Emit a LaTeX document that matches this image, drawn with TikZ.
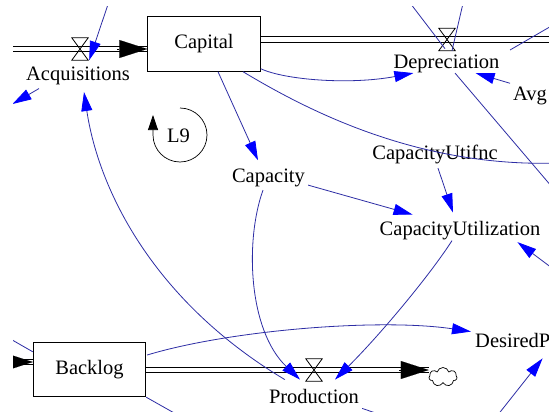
\documentclass[tikz,border=0pt]{standalone}
\usepackage{fontspec}
\setmainfont{Liberation Serif}
\newfontfamily\diagfont{Liberation Serif}
\usetikzlibrary{arrows.meta,shapes.symbols}
\definecolor{linkcol}{RGB}{45,45,165}
\definecolor{headcol}{RGB}{0,0,255}
\begin{document}
\begin{tikzpicture}[x=1pt,y=-1pt,
  lbl/.style={font=\diagfont\fontsize{20.5}{24}\selectfont, inner sep=1pt, anchor=base},
  stock/.style={draw, line width=0.9pt, fill=white, minimum width=112.5pt,
    minimum height=54.5pt, inner sep=0pt, font=\diagfont\fontsize{20.5}{24}\selectfont},
  valvebox/.style={minimum width=16pt, minimum height=22pt, inner sep=0pt},
  pipe/.style={draw=black, line width=0.9pt, double=white, double distance=4.4pt},
  pipehead/.style={line width=0.1pt, -{Triangle[length=28pt,width=18pt,black]}},
  link/.style={draw=linkcol, line width=0.8pt,
    -{Triangle[length=19pt,width=11pt,color=headcol]}},
  plainlink/.style={draw=linkcol, line width=0.8pt},
]
\useasboundingbox (0,0) rectangle (549,412);
\fill[white] (0,0) rectangle (549,412);
\clip (13,7) rectangle (549,412);

% stocks
\node[stock] (Capital) at (204,44) {Capital};
\node[stock] (Backlog) at (89.5,369.5) {Backlog};

% auxiliaries and rates
\node[lbl] (Acquisitions) at (78,81) {Acquisitions};
\node[lbl] (Depreciation) at (446.5,68.5) {Depreciation};
\node[lbl, anchor=base west] (Avg) at (512,100) {Avg};
\node[lbl] (L9) at (178.5,142) {L9};
\node[lbl] (Capacity) at (268.5,182) {Capacity};
\node[lbl] (CapacityUtifnc) at (435,159) {CapacityUtifnc};
\node[lbl] (CapacityUtilization) at (460,235) {CapacityUtilization};
\node[lbl] (Production) at (314,403) {Production};
\node[lbl, anchor=base west] (DesiredP) at (474,347) {DesiredP};

% valves and sink
\node[valvebox] (acqvalve) at (80,49) {};
\node[valvebox] (depvalve) at (447,39.5) {};
\node[valvebox] (prodvalve) at (314,370) {};
\node[cloud, draw, fill=white, cloud puffs=7, minimum width=28pt,
  minimum height=19pt, inner sep=0pt, line width=0.7pt] (sink) at (443,377) {};

% flow pipes
\coordinate (srcA) at (0,49);
\coordinate (srcB) at (0,362);
\coordinate (depOut) at (560,39.5);
\coordinate (capIn) at (Capital.west |- acqvalve);
\coordinate (capOut) at (Capital.east |- depvalve);
\coordinate (blgIn) at (Backlog.west |- srcB);
\coordinate (sinkIn) at (sink.west |- prodvalve);
\draw[pipe] (srcA) -- (capIn);
\draw[pipe] (capOut) -- (depOut);
\draw[pipe] (srcB) -- (blgIn);
\draw[pipe] (Backlog.east |- prodvalve) -- (sinkIn);
\draw[pipehead] ([xshift=-30pt]capIn) -- (capIn);
\draw[pipehead] ([xshift=-30pt]blgIn) -- (blgIn);
\draw[pipehead] ([xshift=-30pt]sinkIn) -- (sinkIn);
\foreach \v in {acqvalve,depvalve,prodvalve}
  \draw[line width=0.8pt] (\v.north west) -- (\v.north east)
    -- (\v.south west) -- (\v.south east) -- cycle;

% loop marker
\begin{scope}[shift={(180,135)}, y=1pt]
  \draw[line width=0.7pt, -{Triangle[length=15pt,width=10pt,black]}]
    (0,27) arc[start angle=90, end angle=-180, radius=27] -- (-27,20);
\end{scope}

% free ends of connectors
\coordinate (aboveA) at (110.5,-3);
\coordinate (leftA) at (12.5,104);
\coordinate (rightC) at (560,163);
\coordinate (leftB) at (0,333);
\coordinate (belowB) at (176,414);
\coordinate (aboveD1) at (405.5,-3);
\coordinate (aboveD2) at (464.5,-3);
\coordinate (rightD) at (558,194);
\coordinate (trA) at (560,21);
\coordinate (trB) at (510,50);
\coordinate (rightU) at (560,274);
\coordinate (belowP) at (497,416);
\coordinate (belowPr) at (390,418);

% connectors
\draw[link] (aboveA) -- ([shift={(1,0)}]acqvalve.south east);
\draw[link] ([shift={(14,2)}]Acquisitions.south west) -- (leftA);
\draw[link] ([shift={(17,-8)}]Production.north west)
  .. controls (155,302) and (99,192) .. ([shift={(6,5.5)}]Acquisitions.south);
\draw[link] ([shift={(14,0)}]Capital.south) -- ([shift={(-10.5,-7)}]Capacity.north);
\draw[link] ([shift={(0,-3)}]Capital.south east)
  .. controls (285,80) and (350,85) .. ([shift={(21,-1)}]Depreciation.south west);
\draw[plainlink] ([shift={(39,0)}]Capital.south)
  .. controls (310,112) and (420,168) .. (rightC);
\draw[link] ([shift={(2,-2.5)}]Capacity.south east)
  -- ([shift={(34,-5)}]CapacityUtilization.north west);
\draw[link] ([shift={(3,3.5)}]CapacityUtifnc.south)
  -- ([shift={(-7,-7)}]CapacityUtilization.north);
\draw[link] ([shift={(-5.5,2.5)}]Capacity.south)
  .. controls (245,240) and (248,330) .. ([shift={(-14,-8)}]Production.north);
\draw[link] ([shift={(-8,0)}]CapacityUtilization.south)
  .. controls (430,275) and (380,335) .. ([shift={(21,-8)}]Production.north);
\draw[link] ([shift={(1,-14.5)}]Backlog.east)
  .. controls (230,330) and (380,318) .. ([shift={(-3,0)}]DesiredP.north west);
\draw[plainlink] ([shift={(0,10)}]Backlog.north west) -- (leftB);
\draw[plainlink] (Backlog.south east) -- (belowB);
\draw[plainlink] ([shift={(-2,-2)}]depvalve.south) -- (aboveD1);
\draw[plainlink] ([shift={(5,0)}]depvalve.south) -- (aboveD2);
\draw[plainlink] ([shift={(8.5,-1)}]Depreciation.south) -- (rightD);
\draw[link] ([shift={(-2,-2)}]Avg.north west) -- ([shift={(-25,-1)}]Depreciation.south east);
\draw[plainlink] (trA) -- (trB);
\draw[link] (rightU) -- ([shift={(-24,1.5)}]CapacityUtilization.south east);
\draw[link] (belowP) -- ([shift={(-9,10)}]DesiredP.south east);
\draw[plainlink] ([shift={(2,4)}]Production.south east) -- (belowPr);
\end{tikzpicture}
\end{document}
